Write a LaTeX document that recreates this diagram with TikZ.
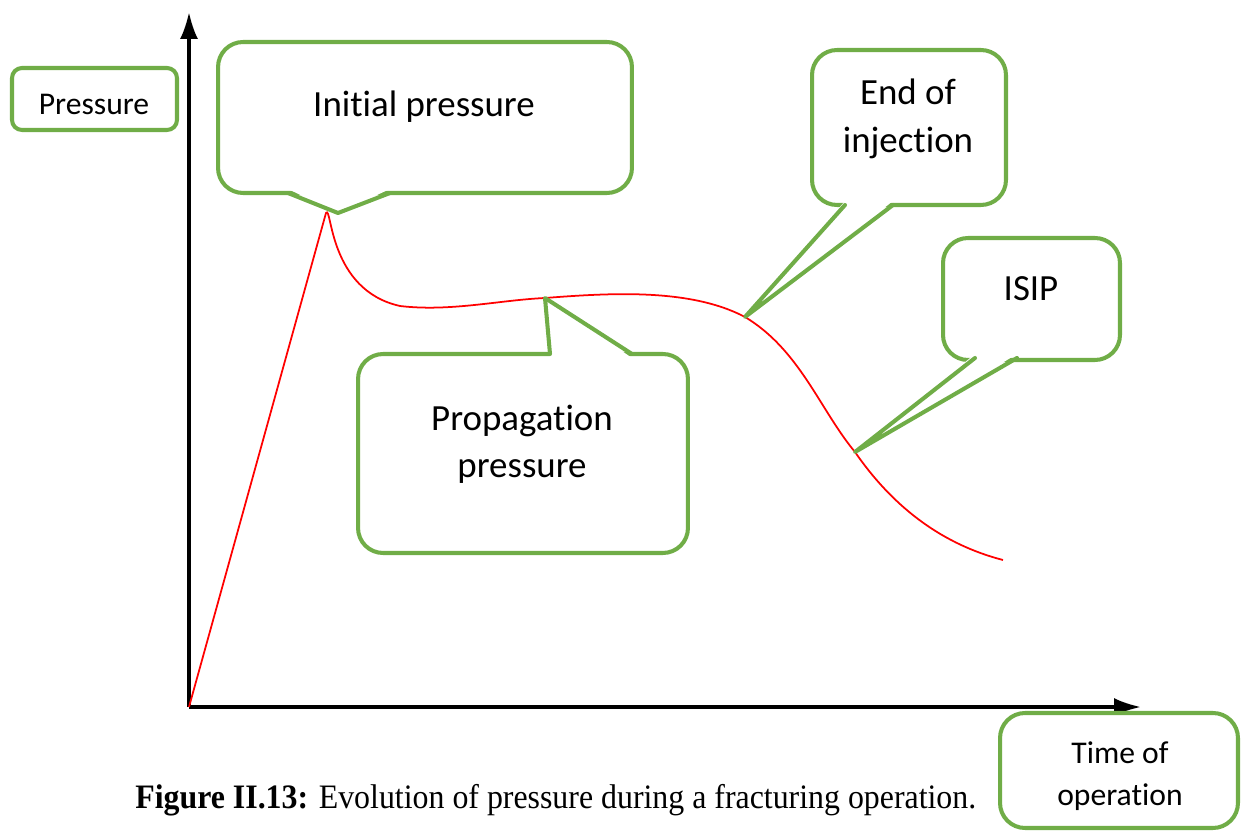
\documentclass[tikz,border=0pt]{standalone}
\usepackage{fontspec}
\setmainfont{Carlito}[Ligatures=NoCommon]
\newfontfamily\capfont{Liberation Serif}
\usetikzlibrary{arrows.meta}
\definecolor{cgreen}{HTML}{70AD47}
\begin{document}
\begin{tikzpicture}[x=0.02cm,y=-0.02cm,
  callbox/.style={draw=cgreen, line width=2.3pt, fill=white, rounded corners=0.5cm, inner sep=0pt},
  ptrfill/.style={fill=white},
  ptrline/.style={draw=cgreen, line width=2.3pt, line join=round, line cap=round},
  lbl/.style={font=\fontsize{21}{27}\selectfont, align=center, inner sep=0pt},
  lblsmall/.style={font=\fontsize{18}{24}\selectfont, align=center, inner sep=0pt},
  axis/.style={line width=1.9pt, -{Latex[length=0.54cm,width=0.36cm]}},
  curve/.style={red, line width=1pt}]
\useasboundingbox (0,0) rectangle (1249,831);
\clip (0,0) rectangle (1249,831);
% axes
\coordinate (o) at (189,707);
\coordinate (ytip) at (189,12);
\coordinate (xtip) at (1141,707);
\draw[axis] (o) -- (ytip);
\draw[axis] (o) -- (xtip);
% pressure curve
\draw[curve] (o) -- (326,213) .. controls (332,204) and (328,290) .. (400,306)
  .. controls (450,312) and (500,300) .. (545,298)
  .. controls (610,293) and (690,288) .. (745,317)
  .. controls (800,350) and (820,410) .. (855,452)
  .. controls (895,510) and (945,545) .. (1003,560);
% Pressure label
\node[callbox, rounded corners=0.2cm, minimum width=3.3cm, minimum height=1.24cm] (pbox) at (94.5,99) {};
\node[lblsmall] (ptext) at (94,104) {Pressure};
% Initial pressure
\node[callbox, minimum width=8.28cm, minimum height=3.02cm] (ipbox) at (425,117.5) {};
\fill[ptrfill] (288,189) -- (338,213) -- (390,189) -- cycle;
\draw[ptrline] (288,193) -- (338,213) -- (390,193);
\node[lbl] (iptext) at (424,107) {Initial pressure};
% Propagation pressure
\node[callbox, minimum width=6.6cm, minimum height=3.98cm] (ppbox) at (523,453.5) {};
\fill[ptrfill] (550,358) -- (545,298) -- (632,358) -- cycle;
\draw[ptrline] (550,354) -- (545,298) -- (632,354);
\node[lbl] (pptext) at (522,444) {Propagation\\pressure};
% End of injection
\node[callbox, minimum width=3.88cm, minimum height=3.1cm] (eoibox) at (909,127.5) {};
\fill[ptrfill] (845,201) -- (745,317) -- (893,201) -- cycle;
\draw[ptrline] (845,205) -- (745,317) -- (893,205);
\node[lbl] (eoitext) at (908,119) {End of\\injection};
% ISIP
\node[callbox, minimum width=3.54cm, minimum height=2.44cm] (isipbox) at (1031.5,299) {};
\fill[ptrfill] (975,354) -- (855,452) -- (1017,354) -- cycle;
\draw[ptrline] (975,358) -- (855,452) -- (1017,358);
\node[lbl] (isiptext) at (1031,289) {ISIP};
% Time of operation
\node[callbox, minimum width=4.76cm, minimum height=2.3cm] (tbox) at (1119,770.5) {};
\node[lblsmall] (ttext) at (1120,776) {Time of\\operation};
% caption
\node[font=\capfont\fontsize{19.5}{24}\selectfont, inner sep=0pt, anchor=base west] (cap) at (135,808)
  {\scalebox{0.93}[1]{\textbf{Figure II.13:} Evolution of pressure during a fracturing operation.}};
\end{tikzpicture}
\end{document}
